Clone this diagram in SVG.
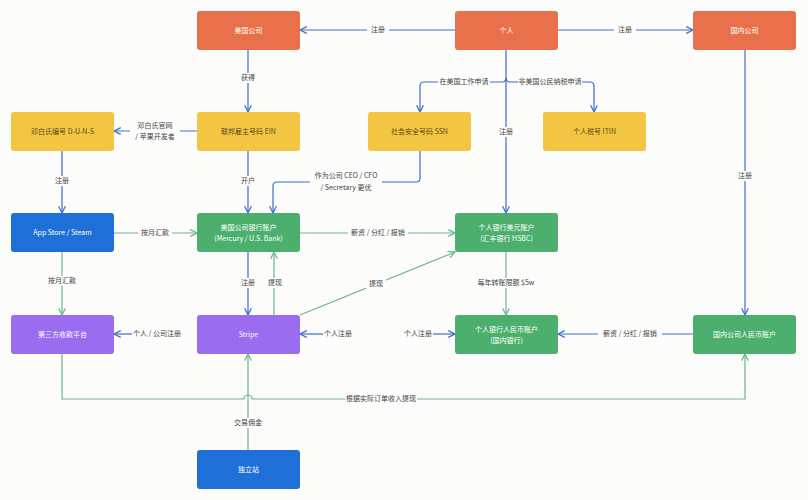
<svg xmlns="http://www.w3.org/2000/svg" width="808" height="500" viewBox="0 0 808 500">
<defs>
<marker id="ab" viewBox="0 0 10 10" refX="9" refY="5" markerWidth="7" markerHeight="7" orient="auto-start-reverse"><path d="M1,1 L9,5 L1,9" fill="none" stroke="#3F6FC8" stroke-width="1.5"/></marker>
<marker id="ag" viewBox="0 0 10 10" refX="9" refY="5" markerWidth="7" markerHeight="7" orient="auto-start-reverse"><path d="M1,1 L9,5 L1,9" fill="none" stroke="#6BB58F" stroke-width="1.5"/></marker>
</defs>
<style>
text{font-family:"Noto Sans CJK SC","Liberation Sans",sans-serif;font-size:7px;text-anchor:middle;dominant-baseline:middle}
.n rect{rx:3;ry:3}
.o{fill:#E8704A}.y{fill:#F4C542}.b{fill:#1F6FD8}.g{fill:#4CAF6E}.p{fill:#9A6CEF}
.w{fill:#fff}.d{fill:#5a4a20}
.lb{fill:none;stroke:#3F6FC8;stroke-width:1.2;marker-end:url(#ab)}
.lg{fill:none;stroke:#6BB58F;stroke-width:1.2;marker-end:url(#ag)}
.l{fill:#444}
.bg{fill:#FCFCFA;stroke:none}
</style>
<rect width="808" height="500" fill="#FCFCFA"/>
<g id="connectors">
<path class="lb" d="M455,30 H300"/><rect class="bg" x="367" y="25" width="22" height="10"/><text class="l" x="378" y="30">注册</text>
<path class="lb" d="M558,30 H693"/><rect class="bg" x="614" y="25" width="22" height="10"/><text class="l" x="625" y="30">注册</text>
<path class="lb" d="M248,50 V112"/><rect class="bg" x="237" y="73" width="22" height="10"/><text class="l" x="248" y="78">获得</text>
<path class="lb" d="M197,131 H114"/><rect class="bg" x="130" y="120" width="50" height="22"/><text class="l" x="155" y="126">邓白氏官网</text><text class="l" x="155" y="137">/ 苹果开发者</text>
<path class="lb" d="M506,50 V213"/><rect class="bg" x="495" y="127" width="22" height="10"/><text class="l" x="506" y="132">注册</text>
<path class="lb" d="M506,78 Q506,82 502,82 H424 Q420,82 420,86 V112"/><rect class="bg" x="438" y="76" width="52" height="11"/><text class="l" x="464" y="82">在美国工作申请</text>
<path class="lb" d="M506,78 Q506,82 510,82 H590 Q594,82 594,86 V112"/><rect class="bg" x="518" y="76" width="64" height="11"/><text class="l" x="550" y="82">非美国公民纳税申请</text>
<path class="lb" d="M62,151 V213"/><rect class="bg" x="51" y="176" width="22" height="10"/><text class="l" x="62" y="181">注册</text>
<path class="lb" d="M248,151 V213"/><rect class="bg" x="237" y="176" width="22" height="10"/><text class="l" x="248" y="181">开户</text>
<path class="lb" d="M420,151 V178 Q420,182 416,182 H277 Q273,182 273,186 V213"/><rect class="bg" x="310" y="170" width="72" height="23"/><text class="l" x="346" y="176">作为公司 CEO / CFO</text><text class="l" x="346" y="188">/ Secretary 更优</text>
<path class="lg" d="M114,233 H197"/><rect class="bg" x="138" y="228" width="34" height="10"/><text class="l" x="155" y="233">按月汇款</text>
<path class="lg" d="M300,233 H455"/><rect class="bg" x="348" y="228" width="60" height="10"/><text class="l" x="378" y="233">薪资 / 分红 / 报销</text>
<path class="lg" d="M62,252 V315"/><rect class="bg" x="45" y="276" width="34" height="10"/><text class="l" x="62" y="281">按月汇款</text>
<path class="lb" d="M248,252 V315"/><rect class="bg" x="239" y="278" width="18" height="10"/><text class="l" x="248" y="283">注册</text>
<path class="lg" d="M274,315 V252"/><rect class="bg" x="265" y="278" width="18" height="10"/><text class="l" x="275" y="283">提现</text>
<path class="lg" d="M300,315 L455,252"/><rect class="bg" x="366" y="279" width="20" height="10"/><text class="l" x="376" y="284">提现</text>
<path class="lg" d="M506,252 V315"/><rect class="bg" x="476" y="278" width="60" height="10"/><text class="l" x="506" y="283">每年转账限额 $5w</text>
<path class="lb" d="M745,50 V315"/><rect class="bg" x="734" y="171" width="22" height="10"/><text class="l" x="745" y="176">注册</text>
<path class="lb" d="M132,334 H114"/><text class="l" x="157" y="334">个人 / 公司注册</text>
<path class="lb" d="M323,334 H300"/><text class="l" x="338" y="334">个人注册</text>
<path class="lb" d="M433,334 H455"/><text class="l" x="418" y="334">个人注册</text>
<path class="lb" d="M693,334 H558"/><rect class="bg" x="598" y="329" width="64" height="10"/><text class="l" x="630" y="334">薪资 / 分红 / 报销</text>
<path class="lg" d="M62,354 V399 H244 A4,4 0 0 1 252,399 H745 V354"/><rect class="bg" x="345" y="394" width="72" height="10"/><text class="l" x="381" y="399">根据实际订单收入提现</text>
<path class="lg" d="M248,450 V354"/><rect class="bg" x="233" y="418" width="30" height="10"/><text class="l" x="248" y="423">交易佣金</text>
</g>
<g id="n-us-co" class="n"><rect class="o" x="197" y="11" width="103" height="39"/><text class="w" x="248.5" y="31">美国公司</text></g>
<g id="n-person" class="n"><rect class="o" x="455" y="11" width="103" height="39"/><text class="w" x="506.5" y="31">个人</text></g>
<g id="n-cn-co" class="n"><rect class="o" x="693" y="11" width="103" height="39"/><text class="w" x="744.5" y="31">国内公司</text></g>
<g id="n-duns" class="n"><rect class="y" x="11" y="112" width="103" height="39"/><text class="d" x="62.5" y="132">邓白氏编号 D-U-N-S</text></g>
<g id="n-ein" class="n"><rect class="y" x="197" y="112" width="103" height="39"/><text class="d" x="248.5" y="132">联邦雇主号码 EIN</text></g>
<g id="n-ssn" class="n"><rect class="y" x="368" y="112" width="103" height="39"/><text class="d" x="419.5" y="132">社会安全号码 SSN</text></g>
<g id="n-itin" class="n"><rect class="y" x="543" y="112" width="103" height="39"/><text class="d" x="594.5" y="132">个人税号 ITIN</text></g>
<g id="n-appstore" class="n"><rect class="b" x="11" y="213" width="103" height="39"/><text class="w" x="62.5" y="233">App Store / Steam</text></g>
<g id="n-usbank" class="n"><rect class="g" x="197" y="213" width="103" height="39"/><text class="w" x="248.5" y="228">美国公司银行账户</text><text class="w" x="248.5" y="239">(Mercury / U.S. Bank)</text></g>
<g id="n-usd" class="n"><rect class="g" x="455" y="213" width="103" height="39"/><text class="w" x="506.5" y="228">个人银行美元账户</text><text class="w" x="506.5" y="239">(汇丰银行 HSBC)</text></g>
<g id="n-third" class="n"><rect class="p" x="11" y="315" width="103" height="39"/><text class="w" x="62.5" y="335">第三方收款平台</text></g>
<g id="n-stripe" class="n"><rect class="p" x="197" y="315" width="103" height="39"/><text class="w" x="248.5" y="335">Stripe</text></g>
<g id="n-rmb" class="n"><rect class="g" x="455" y="315" width="103" height="39"/><text class="w" x="506.5" y="330">个人银行人民币账户</text><text class="w" x="506.5" y="341">(国内银行)</text></g>
<g id="n-cnrmb" class="n"><rect class="g" x="693" y="315" width="103" height="39"/><text class="w" x="744.5" y="335">国内公司人民币账户</text></g>
<g id="n-site" class="n"><rect class="b" x="197" y="450" width="103" height="39"/><text class="w" x="248.5" y="470">独立站</text></g>
</svg>
